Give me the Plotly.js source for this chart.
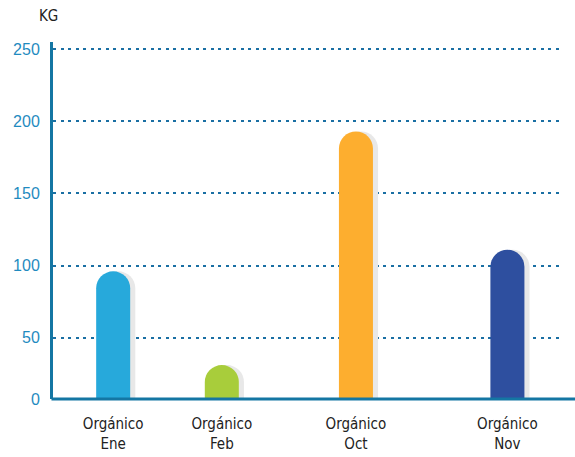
<!DOCTYPE html>
<html>
<head>
<meta charset="utf-8">
<script src="https://cdn.plot.ly/plotly-3.0.1.min.js"></script>
<style>html,body{margin:0;padding:0;background:#fff;}#chart{width:575px;height:457px;}</style>
</head>
<body>
<div id="chart"></div>
<script>
// ---- data ----
const categories = ["Orgánico<br>Ene", "Orgánico<br>Feb", "Orgánico<br>Oct", "Orgánico<br>Nov"];
const values = [96, 31, 193, 111];
const barColors = ["#27a9db", "#a8cd3b", "#fdae2f", "#2e4f9f"];
const yTickValues = [7.5, 50, 100, 150, 200, 250];
const yTickLabels = ["0", "50", "100", "150", "200", "250"];
const unitLabel = "KG";

// ---- layout positions (not data) ----
const slotPositions = [1.18, 3.31, 5.94, 8.91];
const barWidth = 0.667;
const shadowShift = 0.1;

const condensed = "Liberation Sans Narrow, DejaVu Sans Condensed, Roboto Condensed, Arial Narrow, sans-serif";
const axisColor = "#1476a3";

const shadow = {
  type: "bar",
  x: slotPositions,
  y: values,
  width: slotPositions.map(() => barWidth),
  offset: slotPositions.map(() => -barWidth / 2 + shadowShift),
  marker: { color: "#e8e8e8", cornerradius: 17, line: { width: 0 } },
  hoverinfo: "skip",
  showlegend: false
};
const bars = {
  type: "bar",
  x: slotPositions,
  y: values,
  width: slotPositions.map(() => barWidth),
  marker: { color: barColors, cornerradius: 17, line: { width: 0 } },
  showlegend: false
};

const layout = {
  width: 575,
  height: 457,
  margin: { l: 53, r: 12, t: 42, b: 58 },
  paper_bgcolor: "#ffffff",
  plot_bgcolor: "#ffffff",
  barmode: "overlay",
  xaxis: {
    type: "linear",
    range: [0, 10],
    tickvals: slotPositions,
    ticktext: categories,
    showgrid: false,
    zeroline: false,
    showline: false,
    ticks: "",
    ticklabelstandoff: 14,
    tickfont: { family: condensed, size: 15, color: "#222222" },
    fixedrange: true
  },
  yaxis: {
    range: [7.5, 255],
    tickvals: yTickValues,
    ticktext: yTickLabels,
    showgrid: true,
    gridcolor: "#1a6fa3",
    gridwidth: 2,
    griddash: "3px,4.5px",
    zeroline: false,
    showline: true,
    linecolor: axisColor,
    linewidth: 3,
    ticks: "",
    ticklabelstandoff: 7,
    tickfont: { family: "Liberation Sans, Arial, sans-serif", size: 16, color: "#1f8bc0" },
    fixedrange: true
  },
  shapes: [{
    type: "line", xref: "paper", yref: "paper",
    x0: -0.003, x1: 1.03, y0: 0, y1: 0,
    line: { color: axisColor, width: 3 },
    layer: "above"
  }],
  annotations: [{
    text: unitLabel, xref: "paper", yref: "paper",
    x: 0, y: 1, xanchor: "center", yanchor: "middle",
    xshift: -5, yshift: 26, showarrow: false,
    font: { family: condensed, size: 15, color: "#222222" }
  }]
};

Plotly.newPlot("chart", [shadow, bars], layout, { displayModeBar: false, staticPlot: true });
</script>
</body>
</html>
